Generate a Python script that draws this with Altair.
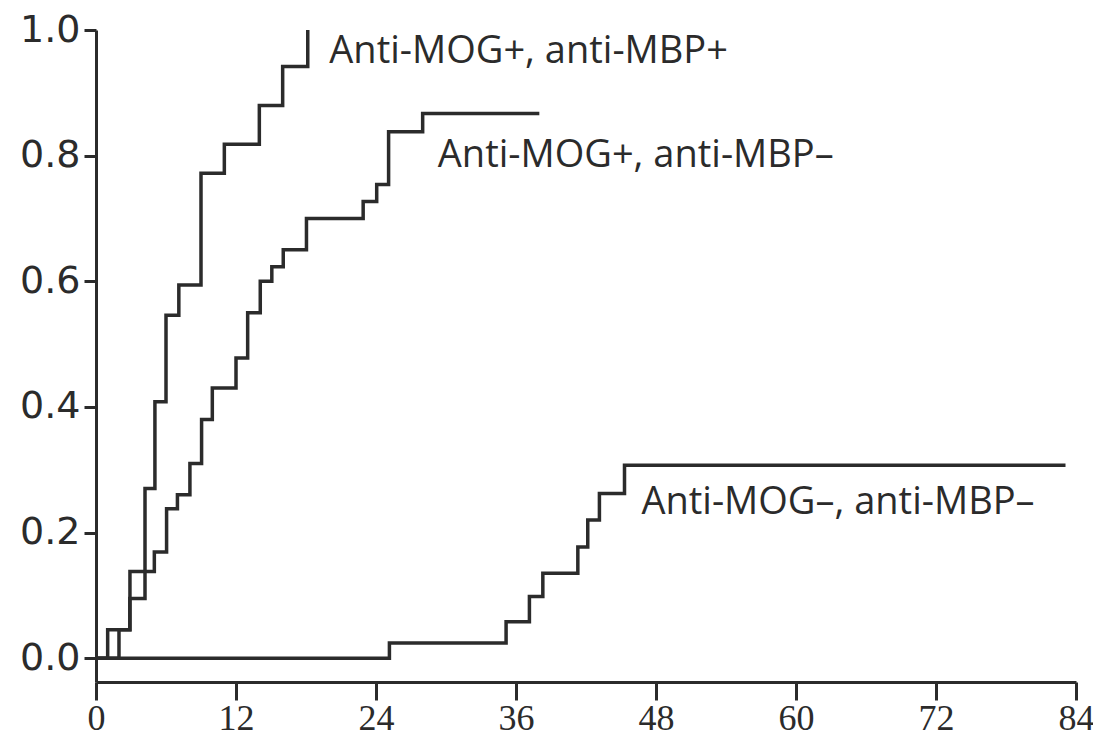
import altair as alt
import pandas as pd

# ---- data (months, cumulative probability) ----
series_names = ["Anti-MOG+, anti-MBP+", "Anti-MOG+, anti-MBP–", "Anti-MOG–, anti-MBP–"]

t_pos_pos = [0, 1.0, 2.9, 4.2, 5.05, 6.0, 7.1, 9.0, 11.0, 14.0, 16.0, 18.15]
v_pos_pos = [0, 0.045, 0.095, 0.27, 0.408, 0.546, 0.594, 0.772, 0.818, 0.88, 0.942, 1.0]

t_pos_neg = [0, 1.97, 2.91, 5.0, 6.05, 6.98, 8.05, 9.05, 9.97, 12.0, 13.0, 14.08,
             15.07, 16.05, 18.04, 22.9, 24.06, 25.08, 28.0, 38.0]
v_pos_neg = [0, 0.045, 0.138, 0.169, 0.238, 0.26, 0.31, 0.38, 0.43, 0.478, 0.55, 0.60,
             0.623, 0.65, 0.70, 0.727, 0.754, 0.838, 0.867, 0.867]

t_neg_neg = [0, 25.15, 35.15, 37.15, 38.3, 41.3, 42.15, 43.15, 45.3, 83.1]
v_neg_neg = [0, 0.024, 0.058, 0.098, 0.135, 0.177, 0.22, 0.262, 0.307, 0.307]

x_ticks = [0, 12, 24, 36, 48, 60, 72, 84]
y_ticks = [0.0, 0.2, 0.4, 0.6, 0.8, 1.0]

# label anchors (data coordinates)
label_t = [20.0, 29.3, 46.75]
label_v = [0.948, 0.782, 0.229]

rows = []
for name, ts, vs in zip(series_names, [t_pos_pos, t_pos_neg, t_neg_neg],
                        [v_pos_pos, v_pos_neg, v_neg_neg]):
    for i, (t, v) in enumerate(zip(ts, vs)):
        rows.append({"series": name, "t": t, "v": v, "order": i})
df = pd.DataFrame(rows)

labels_df = pd.DataFrame({"label": series_names, "t": label_t, "v": label_v})

INK = "#2b2b2b"

x_scale = alt.Scale(domain=[0, 84], nice=False, zero=False)
y_scale = alt.Scale(domain=[-0.038, 1.0], nice=False, zero=False)

lines = alt.Chart(df).mark_line(
    interpolate="step-after", color=INK, strokeWidth=3.5
).encode(
    x=alt.X("t:Q", scale=x_scale, title=None,
            axis=alt.Axis(values=x_ticks, format="d", labelFlush=False,
                          tickSize=18, labelFont="Liberation Sans Narrow",
                          labelFontSize=36, labelPadding=1, labelOverlap=False)),
    y=alt.Y("v:Q", scale=y_scale, title=None,
            axis=alt.Axis(values=y_ticks, format=".1f", tickSize=12,
                          labelFont="DejaVu Sans", labelFontSize=38,
                          labelPadding=4, labelOverlap=False)),
    detail="series:N",
    order="order:Q",
)

texts = alt.Chart(labels_df).mark_text(
    align="left", baseline="alphabetic", font="Open Sans", fontSize=38, color=INK
).encode(
    x=alt.X("t:Q", scale=x_scale),
    y=alt.Y("v:Q", scale=y_scale),
    text="label:N",
)

chart = alt.layer(lines, texts).properties(
    width=980,
    height=652,
    autosize="none",
    padding={"left": 88, "top": 22, "right": 17, "bottom": 60},
    background="white",
).configure_view(stroke=None).configure_axis(
    grid=False,
    domainColor=INK,
    domainWidth=3,
    tickColor=INK,
    tickWidth=3,
    labelColor=INK,
)

chart.save("out.html", embed_options={"renderer": "svg", "actions": False})
